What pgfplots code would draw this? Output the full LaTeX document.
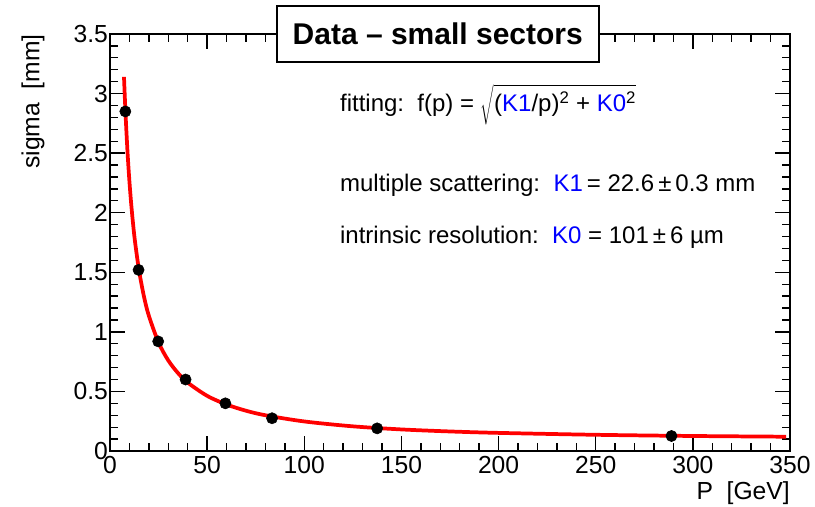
\documentclass[border=0pt]{standalone}
\usepackage{fontspec}
\setmainfont{Liberation Sans}
\usepackage{pgfplots}
\pgfplotsset{compat=1.18}
\definecolor{rootblue}{RGB}{0,0,255}
\definecolor{rootred}{RGB}{255,0,0}

\begin{document}
\begin{tikzpicture}
\begin{axis}[
  name=ax,
  scale only axis,
  width=510pt, height=312.75pt,
  xmin=0, xmax=350, ymin=0, ymax=3.5,
  xtick={0,50,...,350},
  ytick={0,0.5,1,1.5,2,2.5,3,3.5},
  yticklabels={0,0.5,1,1.5,2,2.5,3,3.5},
  minor x tick num=4, minor y tick num=4,
  tick align=inside,
  major tick length=11pt, minor tick length=6pt,
  axis line style={line width=1.5pt},
  every tick/.style={black, line width=1pt},
  /pgf/number format/assume math mode=true,
  tick label style={font=\fontsize{18.5}{21}\selectfont},
  xticklabel style={yshift=-0.5pt},
  yticklabel style={xshift=2pt},
  xlabel={P\ \ [GeV]},
  ylabel={sigma\ \ [mm]},
  label style={font=\fontsize{18.5}{21}\selectfont},
  xlabel style={at={(axis description cs:1,-0.1007)}, anchor=east, inner sep=0pt},
  ylabel style={at={(axis description cs:-0.1132,1)}, anchor=east, inner sep=0pt},
  clip=false,
]
% measured points
\addplot[only marks, mark=*, mark size=4.2pt, black] coordinates {
  (7.9,2.85) (14.7,1.52) (24.8,0.92) (38.9,0.60)
  (59.4,0.40) (83.4,0.275) (137.5,0.19) (289,0.126)
};
% fitted curve
\addplot[rootred, line width=2.8pt, smooth] coordinates {
  (7.2,3.14) (8,2.83) (9,2.513) (10,2.262) (11,2.057) (12,1.886)
  (13,1.741) (15,1.510) (17.5,1.295) (20,1.135) (25,0.910) (30,0.760)
  (35,0.654) (40,0.574) (50,0.463) (60,0.390) (70,0.338) (80,0.300)
  (100,0.248) (125,0.207) (150,0.181) (175,0.164) (200,0.152)
  (250,0.136) (300,0.126) (348,0.120)
};
\node[anchor=west, font=\fontsize{18}{21}\selectfont, inner sep=0pt]
  at (axis description cs:0.338,0.830)
  {fitting:\ \ f(p) = $\sqrt{\vphantom{\bigg|}\mbox{(\textcolor{rootblue}{K1}/p)\textsuperscript{2} + \textcolor{rootblue}{K0}\textsuperscript{2}}}$};
\node[anchor=west, font=\fontsize{18}{21}\selectfont, inner sep=0pt]
  at (axis description cs:0.338,0.638)
  {multiple scattering:\ \ \textcolor{rootblue}{K1}\,= 22.6\,±\,0.3 mm};
\node[anchor=west, font=\fontsize{18}{21}\selectfont, inner sep=0pt]
  at (axis description cs:0.338,0.513)
  {intrinsic resolution:\ \ \textcolor{rootblue}{K0} = 101\,±\,6 µm};
\node[draw, line width=1.5pt, fill=white, minimum width=241.5pt, minimum height=42pt,
  font=\fontsize{22.5}{26}\bfseries\selectfont]
  at (axis description cs:0.482,1) {Data -- small sectors};
\end{axis}
\pgfresetboundingbox
\path ([shift={(-82.5pt,-41.25pt)}]ax.south west) rectangle ([shift={(18.75pt,25.5pt)}]ax.north east);
\end{tikzpicture}
\end{document}
